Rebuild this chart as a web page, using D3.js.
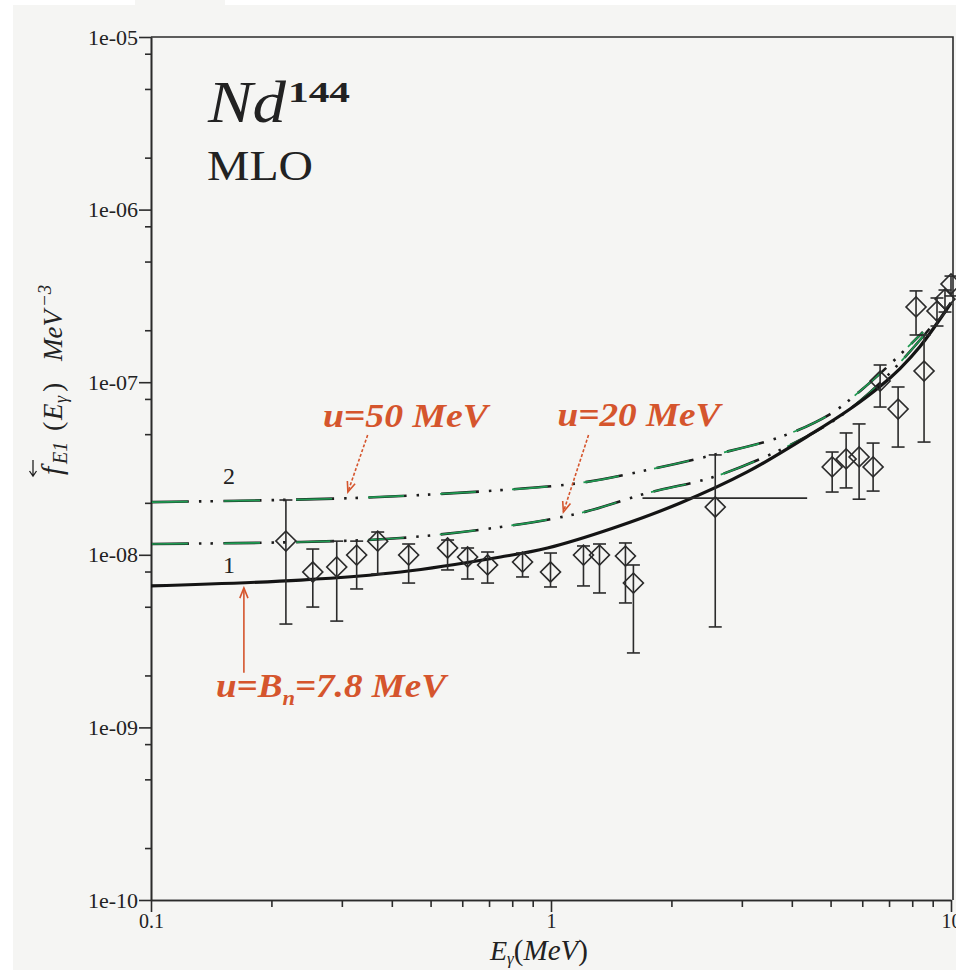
<!DOCTYPE html>
<html>
<head>
<meta charset="utf-8">
<script src="https://cdn.jsdelivr.net/npm/d3@7"></script>
<style>
  html, body { margin: 0; padding: 0; background: #ffffff; }
  svg { display: block; }
  text { font-family: "Liberation Serif", "DejaVu Serif", serif; }
</style>
</head>
<body>
<svg id="chart" width="956" height="970"></svg>
<script>
// ---- Measured E1 strength (diamonds), E in MeV, f in MeV^-3 ----
const pointE    = [0.2174, 0.2538, 0.2913, 0.3267, 0.3688, 0.4407, 0.5514, 0.6187, 0.6942, 0.8489,
                   0.9972, 1.2056, 1.322, 1.535, 1.607, 2.574, 5.046, 5.468, 5.892, 6.387,
                   6.649, 7.375, 8.177, 8.563, 9.226, 9.66, 10.0];
const pointF    = [1.202e-8, 7.95e-9, 8.50e-9, 9.97e-9, 1.20e-8, 9.97e-9, 1.095e-8, 9.71e-9, 8.73e-9, 9.08e-9,
                   7.95e-9, 9.97e-9, 9.97e-9, 9.84e-9, 6.86e-9, 1.892e-8, 3.23e-8, 3.59e-8, 3.69e-8, 3.23e-8,
                   1.016e-7, 6.99e-8, 2.73e-7, 1.161e-7, 2.585e-7, 3.03e-7, 3.71e-7];
const pointFHigh = [2.077e-8, 1.080e-8, 1.20e-8, 1.20e-8, 1.355e-8, 1.155e-8, 1.218e-8, 1.095e-8, 1.038e-8, 1.024e-8,
                   1.024e-8, 1.125e-8, 1.155e-8, 1.171e-8, 8.73e-9, 3.79e-8, 3.94e-8, 5.08e-8, 5.73e-8, 4.44e-8,
                   1.258e-7, 9.38e-8, 3.38e-7, 1.877e-7, 3.075e-7, 3.42e-7, 4.12e-7];
const pointFLow  = [3.97e-9, 4.98e-9, 4.13e-9, 6.34e-9, 7.74e-9, 6.86e-9, 8.17e-9, 7.24e-9, 6.86e-9, 7.44e-9,
                   6.51e-9, 6.60e-9, 6.01e-9, 5.26e-9, 2.70e-9, 3.82e-9, 2.31e-8, 2.44e-8, 2.10e-8, 2.34e-8,
                   7.18e-8, 4.21e-8, 1.877e-7, 4.50e-8, 2.116e-7, 2.55e-7, 3.16e-7];
// energy-resolution bar of the 2.574 MeV point
const xBarE = [1.693, 4.369];
const xBarF = 2.13e-8;

// ---- Model curves ----
// curve 1: u = B_n = 7.8 MeV
const curve1E = [0.1, 0.2368, 0.421, 0.748, 0.980, 1.432, 2.105, 3.095, 4.52, 5.592, 6.644, 7.457, 8.367, 10.0];
const curve1F = [6.60e-9, 7.14e-9, 7.95e-9, 9.71e-9, 1.095e-8, 1.43e-8, 1.995e-8, 3.02e-8, 5.08e-8, 6.99e-8, 9.44e-8, 1.20e-7, 1.61e-7, 2.877e-7];
// u = 20 MeV
const curve20E = [0.1, 0.2368, 0.421, 0.748, 1.185, 1.742, 2.545, 3.74, 4.983, 5.923, 7.04, 8.367, 9.387];
const curve20F = [1.155e-8, 1.186e-8, 1.251e-8, 1.449e-8, 1.747e-8, 2.28e-8, 2.82e-8, 4.05e-8, 5.80e-8, 7.78e-8, 1.13e-7, 1.756e-7, 2.418e-7];
// curve 2: u = 50 MeV
const curve50E = [0.1, 0.3159, 0.748, 1.185, 1.742, 2.545, 3.74, 4.99, 5.93, 7.04, 8.51];
const curve50F = [2.02e-8, 2.13e-8, 2.37e-8, 2.61e-8, 3.10e-8, 3.79e-8, 4.81e-8, 6.54e-8, 8.9e-8, 1.27e-7, 1.953e-7];

// ---- Axes ticks ----
const yMajor = [1e-10, 1e-9, 1e-8, 1e-7, 1e-6, 1e-5];
const yLabels = ["1e-10", "1e-09", "1e-08", "1e-07", "1e-06", "1e-05"];
const yMinorMult = [2, 5, 8];
const xMajor = [0.1, 1, 10];
const xLabels = ["0.1", "1", "10"];
const xMinorMult = [2, 3, 4, 5, 6, 7, 8, 9];

const svg = d3.select("#chart");
const INK = "#2b2b2b";
const RED = "#d5552d";
const GREEN = "#1f9a52";

// paper background
svg.append("rect").attr("x", 13).attr("y", 5).attr("width", 943).attr("height", 965).attr("fill", "#f5f5f3");
svg.append("rect").attr("x", 135).attr("y", 0).attr("width", 90).attr("height", 5).attr("fill", "#f5f5f3");

const x = d3.scaleLog().domain([0.1, 10]).range([151, 951]);
const y = d3.scaleLog().domain([1e-10, 1e-5]).range([900, 37]);

// ---- axes ----
const yMinor = [];
yMajor.slice(0, -1).forEach(d => yMinorMult.forEach(m => yMinor.push(d * m)));
const xMinor = [];
xMajor.slice(0, -1).forEach(d => xMinorMult.forEach(m => xMinor.push(d * m)));

const gy = svg.append("g").attr("transform", `translate(${x(0.1)},0)`)
  .call(d3.axisLeft(y).tickValues(yMajor).tickFormat((d, i) => yLabels[i]).tickSize(12).tickSizeOuter(0).tickPadding(1));
svg.append("g").attr("transform", `translate(${x(0.1)},0)`)
  .call(d3.axisLeft(y).tickValues(yMinor).tickFormat("").tickSize(6).tickSizeOuter(0));

const gx = svg.append("g").attr("transform", `translate(0,${y(1e-10)})`)
  .call(d3.axisBottom(x).tickValues(xMajor).tickFormat((d, i) => xLabels[i]).tickSize(12).tickSizeOuter(0).tickPadding(2));
svg.append("g").attr("transform", `translate(0,${y(1e-10)})`)
  .call(d3.axisBottom(x).tickValues(xMinor).tickFormat("").tickSize(7).tickSizeOuter(0));

svg.selectAll(".domain, .tick line").attr("stroke", INK).attr("stroke-width", 1.6);
gy.selectAll("text").attr("font-size", 22).attr("fill", "#222");
gx.selectAll("text").attr("font-size", 20).attr("fill", "#222");

// frame top and right
svg.append("path")
  .attr("d", `M${x(0.1)},${y(1e-5)} H${x(10) + 2} V${y(1e-10)}`)
  .attr("fill", "none").attr("stroke", INK).attr("stroke-width", 1.6);

// ---- curves ----
const line = d3.line().x(d => x(d[0])).y(d => y(d[1])).curve(d3.curveCatmullRom.alpha(0.5));
const zip = (a, b) => a.map((v, i) => [v, b[i]]);

function dashDot(E, F) {
  const pts = zip(E, F);
  svg.append("path").attr("d", line(pts)).attr("fill", "none")
    .attr("stroke", "#1b1b1b").attr("stroke-width", 2.6)
    .attr("stroke-dasharray", "38,10,2.5,9,2.5,10.5");
  svg.append("path").attr("d", line(pts)).attr("fill", "none")
    .attr("stroke", GREEN).attr("stroke-width", 1.7)
    .attr("stroke-dasharray", "36,36").attr("stroke-dashoffset", -1);
}
dashDot(curve50E, curve50F);
dashDot(curve20E, curve20F);

svg.append("path").attr("d", line(zip(curve1E, curve1F))).attr("fill", "none")
  .attr("stroke", "#141414").attr("stroke-width", 3.2);

// ---- data points ----
const pts = pointE.map((e, i) => ({ e, f: pointF[i], lo: pointFLow[i], hi: pointFHigh[i] }));
const gp = svg.append("g").attr("stroke", INK).attr("stroke-width", 1.6).attr("fill", "none");
const cap = 6.5;
pts.forEach(p => {
  const cx = x(p.e);
  gp.append("line").attr("x1", cx).attr("x2", cx).attr("y1", y(p.hi)).attr("y2", y(p.lo));
  gp.append("line").attr("x1", cx - cap).attr("x2", cx + cap).attr("y1", y(p.hi)).attr("y2", y(p.hi));
  gp.append("line").attr("x1", cx - cap).attr("x2", cx + cap).attr("y1", y(p.lo)).attr("y2", y(p.lo));
});
gp.append("line").attr("x1", x(xBarE[0])).attr("x2", x(xBarE[1])).attr("y1", y(xBarF)).attr("y2", y(xBarF));
const diamond = d3.symbol().type(d3.symbolSquare).size(200);
gp.selectAll("path.pt").data(pts).join("path").attr("class", "pt")
  .attr("d", diamond)
  .attr("transform", d => `translate(${x(d.e)},${y(d.f)}) rotate(45)`);

// ---- curve labels and annotations ----
svg.append("text").attr("x", x(0.1566)).attr("y", y(2.57e-8)).attr("text-anchor", "middle")
  .attr("font-size", 24).attr("fill", "#222").text("2");
svg.append("text").attr("x", x(0.1566)).attr("y", y(7.84e-9)).attr("text-anchor", "middle")
  .attr("font-size", 24).attr("fill", "#222").text("1");

function redLabel(E, F, width, build) {
  const t = svg.append("text").attr("x", x(E)).attr("y", y(F))
    .attr("font-size", 33).attr("font-weight", "bold").attr("font-style", "italic").attr("fill", RED);
  build(t);
  t.attr("textLength", width).attr("lengthAdjust", "spacingAndGlyphs");
  return t;
}
redLabel(0.269, 5.50e-8, 165, t => t.text("u=50 MeV"));
redLabel(1.038, 5.55e-8, 163, t => t.text("u=20 MeV"));
redLabel(0.1453, 1.50e-9, 230, t => {
  t.append("tspan").text("u=B");
  t.append("tspan").attr("font-size", 20).attr("dy", 8).text("n");
  t.append("tspan").attr("dy", -8).text("=7.8 MeV");
});

function arrow(E0, F0, E1, F1, dashed) {
  const x0 = x(E0), y0 = y(F0), x1 = x(E1), y1 = y(F1);
  const ang = Math.atan2(y1 - y0, x1 - x0);
  const L = 11, spread = 0.38;
  const g = svg.append("g").attr("stroke", RED).attr("stroke-width", 1.6).attr("fill", "none");
  g.append("line").attr("x1", x0).attr("y1", y0).attr("x2", x1).attr("y2", y1)
    .attr("stroke-dasharray", dashed ? "3,2" : null);
  g.append("path").attr("d",
    `M${x1 - L * Math.cos(ang - spread)},${y1 - L * Math.sin(ang - spread)} L${x1},${y1} L${x1 - L * Math.cos(ang + spread)},${y1 - L * Math.sin(ang + spread)}`);
}
arrow(0.348, 4.94e-8, 0.3106, 2.31e-8, true);
arrow(1.241, 4.94e-8, 1.074, 1.77e-8, true);
arrow(0.1707, 2.07e-9, 0.1707, 6.43e-9, false);

// ---- title ----
svg.append("text").attr("x", 208).attr("y", 122).attr("fill", "#222")
  .attr("font-size", 60).attr("font-style", "italic")
  .attr("textLength", 78).attr("lengthAdjust", "spacingAndGlyphs").text("Nd");
svg.append("text").attr("x", 288).attr("y", 102).attr("fill", "#222")
  .attr("font-size", 29).attr("font-weight", "bold")
  .attr("textLength", 62).attr("lengthAdjust", "spacingAndGlyphs").text("144");
svg.append("text").attr("x", 207).attr("y", 180).attr("font-size", 43).attr("fill", "#222")
  .attr("textLength", 106).attr("lengthAdjust", "spacingAndGlyphs").text("MLO");

// ---- axis titles ----
const yl = svg.append("g").attr("transform", "translate(62,477) rotate(-90)");
const ylt = yl.append("text").attr("fill", "#222").attr("font-style", "italic");
ylt.append("tspan").attr("x", 2).attr("font-size", 30).text("f");
ylt.append("tspan").attr("x", 13).attr("font-size", 20).attr("dy", 5).text("E1");
ylt.append("tspan").attr("x", 46).attr("font-size", 28).attr("dy", -5).attr("font-style", "normal").text("(");
ylt.append("tspan").attr("x", 57).attr("font-size", 27).text("E");
ylt.append("tspan").attr("x", 74).attr("font-size", 18).attr("dy", 5).text("γ");
ylt.append("tspan").attr("x", 85).attr("font-size", 28).attr("dy", -5).attr("font-style", "normal").text(")");
ylt.append("tspan").attr("x", 116).attr("font-size", 27).text("MeV");
ylt.append("tspan").attr("x", 170).attr("font-size", 19).attr("dy", -11).text("−3");
yl.append("path").attr("d", "M17,-29 H1 M6,-32.5 L1,-29 L6,-25.5")
  .attr("fill", "none").attr("stroke", "#222").attr("stroke-width", 1.3);

const xl = svg.append("text").attr("y", 960).attr("fill", "#222").attr("font-style", "italic");
xl.append("tspan").attr("x", 490).attr("font-size", 28).text("E");
xl.append("tspan").attr("font-size", 17).attr("dy", 4).text("γ");
xl.append("tspan").attr("font-size", 29).attr("dy", -4).attr("font-style", "normal").text("(");
xl.append("tspan").attr("font-size", 29).text("MeV");
xl.append("tspan").attr("font-size", 29).attr("font-style", "normal").text(")");
</script>
</body>
</html>
